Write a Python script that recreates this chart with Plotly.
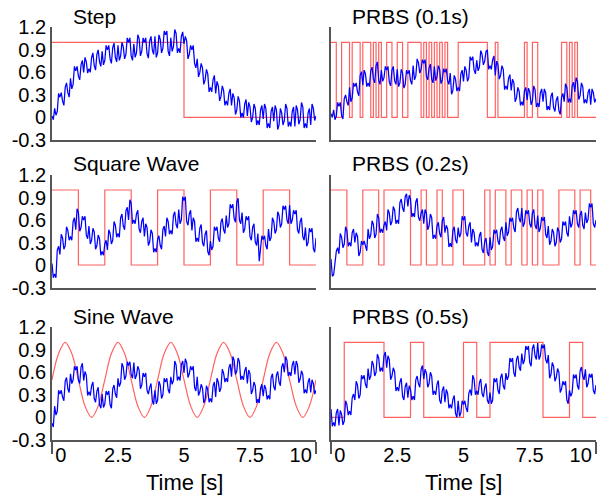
import plotly.graph_objects as go

# ---------------- data ----------------
# measured responses, read every 0.1 s (t = 0 .. 10) ...
t_resp = [round(i * 0.1, 1) for i in range(101)]
# ... and the in-between spikes read at t = 0.05, 0.15, ... 9.95
t_mid = [round(i * 0.1 + 0.05, 2) for i in range(100)]

step_out = [0.02, 0.12, 0.08, 0.27, 0.22, 0.40, 0.33, 0.52, 0.44, 0.62,
            0.55, 0.70, 0.60, 0.74, 0.65, 0.80, 0.69, 0.84, 0.74, 0.88,
            0.76, 0.90, 0.78, 0.93, 0.80, 0.96, 0.82, 0.94, 0.84, 1.00,
            0.82, 0.98, 0.86, 1.05, 0.88, 1.00, 0.85, 1.02, 0.90, 1.08,
            0.86, 1.04, 0.92, 1.10, 0.88, 1.06, 0.94, 1.12, 0.92, 1.08,
            0.98, 1.02, 0.84, 0.90, 0.72, 0.78, 0.60, 0.66, 0.50, 0.58,
            0.40, 0.50, 0.32, 0.42, 0.28, 0.36, 0.22, 0.32, 0.16, 0.26,
            0.10, 0.22, 0.06, 0.18, 0.02, 0.14, 0.00, 0.12, -0.04, 0.10,
            -0.02, 0.12, -0.08, 0.08, -0.05, 0.10, -0.10, 0.06, -0.04, 0.12,
            -0.06, 0.08, -0.12, 0.10, -0.03, 0.14, -0.08, 0.06, -0.10, 0.12,
            0.02]
step_mid = [-0.03, 0.03, 0.32, 0.33, 0.16, 0.46, 0.27, 0.38, 0.68, 0.68,
            0.50, 0.76, 0.80, 0.59, 0.60, 0.86, 0.63, 0.90, 0.68, 0.70,
            0.96, 0.96, 0.72, 0.99, 0.74, 0.76, 1.00, 0.78, 1.06, 1.06,
            0.76, 0.80, 1.10, 0.82, 1.06, 1.06, 0.79, 1.08, 0.84, 0.80,
            1.10, 0.86, 1.15, 1.15, 0.82, 0.88, 1.17, 0.86, 0.86, 1.14,
            1.08, 0.78, 0.96, 0.96, 0.66, 0.54, 0.72, 0.44, 0.64, 0.34,
            0.34, 0.56, 0.48, 0.22, 0.42, 0.16, 0.16, 0.38, 0.32, 0.04,
            0.28, 0.00, 0.00, 0.24, 0.20, -0.06, 0.18, -0.10, -0.10, 0.16,
            0.18, -0.14, -0.14, 0.14, 0.16, -0.16, 0.12, -0.10, 0.18, -0.12,
            -0.12, 0.14, 0.16, -0.09, 0.20, -0.14, -0.14, 0.12, 0.18, -0.04]

square_out = [0.02, -0.12, 0.20, 0.14, 0.36, 0.26, 0.46, 0.38, 0.58, 0.47,
              0.70, 0.50, 0.60, 0.40, 0.52, 0.33, 0.44, 0.26, 0.35, 0.18,
              0.28, 0.20, 0.42, 0.33, 0.53, 0.42, 0.63, 0.52, 0.72, 0.60,
              0.82, 0.60, 0.68, 0.48, 0.58, 0.38, 0.50, 0.31, 0.42, 0.22,
              0.34, 0.26, 0.47, 0.38, 0.58, 0.46, 0.66, 0.54, 0.74, 0.60,
              0.86, 0.58, 0.68, 0.46, 0.58, 0.36, 0.49, 0.30, 0.41, 0.18,
              0.32, 0.25, 0.46, 0.36, 0.57, 0.47, 0.66, 0.55, 0.76, 0.62,
              0.84, 0.60, 0.70, 0.48, 0.60, 0.38, 0.50, 0.31, 0.42, 0.22,
              0.34, 0.26, 0.48, 0.37, 0.58, 0.47, 0.66, 0.55, 0.74, 0.60,
              0.80, 0.60, 0.68, 0.47, 0.58, 0.38, 0.50, 0.30, 0.44, 0.22,
              0.36]
square_mid = [-0.17, -0.17, 0.25, 0.41, 0.21, 0.51, 0.33, 0.33, 0.63, 0.75,
              0.45, 0.65, 0.65, 0.35, 0.28, 0.49, 0.21, 0.40, 0.13, 0.13,
              0.33, 0.47, 0.28, 0.58, 0.37, 0.37, 0.68, 0.47, 0.77, 0.87,
              0.55, 0.55, 0.73, 0.43, 0.63, 0.55, 0.26, 0.47, 0.17, 0.17,
              0.39, 0.21, 0.52, 0.63, 0.41, 0.41, 0.71, 0.49, 0.55, 0.91,
              0.91, 0.53, 0.73, 0.63, 0.31, 0.31, 0.54, 0.25, 0.46, 0.13,
              0.20, 0.51, 0.51, 0.31, 0.62, 0.42, 0.50, 0.81, 0.81, 0.57,
              0.89, 0.55, 0.43, 0.65, 0.65, 0.33, 0.55, 0.26, 0.05, 0.39,
              0.39, 0.21, 0.32, 0.63, 0.42, 0.71, 0.50, 0.79, 0.79, 0.55,
              0.55, 0.73, 0.73, 0.42, 0.63, 0.33, 0.25, 0.49, 0.49, 0.17]

sine_out = [-0.08, 0.15, 0.08, 0.31, 0.27, 0.48, 0.38, 0.58, 0.50, 0.63,
            0.50, 0.67, 0.49, 0.56, 0.34, 0.42, 0.25, 0.35, 0.17, 0.31,
            0.18, 0.30, 0.17, 0.38, 0.31, 0.52, 0.46, 0.67, 0.55, 0.69,
            0.57, 0.73, 0.56, 0.63, 0.43, 0.54, 0.36, 0.40, 0.22, 0.36,
            0.23, 0.43, 0.30, 0.47, 0.37, 0.54, 0.49, 0.70, 0.54, 0.70,
            0.59, 0.73, 0.58, 0.63, 0.40, 0.54, 0.34, 0.39, 0.24, 0.37,
            0.25, 0.42, 0.27, 0.47, 0.39, 0.59, 0.52, 0.66, 0.54, 0.76,
            0.62, 0.74, 0.55, 0.62, 0.45, 0.58, 0.36, 0.42, 0.24, 0.39,
            0.28, 0.38, 0.29, 0.53, 0.41, 0.56, 0.47, 0.67, 0.60, 0.76,
            0.60, 0.70, 0.57, 0.70, 0.51, 0.57, 0.37, 0.47, 0.33, 0.45,
            0.36]
sine_mid = [-0.13, 0.03, 0.36, 0.36, 0.22, 0.53, 0.33, 0.45, 0.68, 0.68,
            0.45, 0.72, 0.61, 0.29, 0.29, 0.47, 0.20, 0.40, 0.12, 0.13,
            0.35, 0.35, 0.12, 0.43, 0.26, 0.41, 0.72, 0.50, 0.74, 0.74,
            0.52, 0.51, 0.68, 0.38, 0.59, 0.59, 0.31, 0.45, 0.17, 0.18,
            0.48, 0.25, 0.52, 0.52, 0.32, 0.44, 0.75, 0.49, 0.49, 0.75,
            0.78, 0.53, 0.68, 0.68, 0.35, 0.29, 0.44, 0.19, 0.42, 0.20,
            0.20, 0.47, 0.52, 0.34, 0.64, 0.47, 0.47, 0.71, 0.81, 0.57,
            0.79, 0.50, 0.50, 0.67, 0.63, 0.31, 0.47, 0.19, 0.19, 0.44,
            0.43, 0.24, 0.24, 0.58, 0.36, 0.61, 0.42, 0.72, 0.81, 0.55,
            0.55, 0.75, 0.75, 0.46, 0.62, 0.32, 0.32, 0.52, 0.50, 0.31]

prbs01_out = [0.05, 0.10, 0.02, 0.15, 0.03, 0.25, 0.21, 0.40, 0.26, 0.41,
              0.34, 0.56, 0.43, 0.58, 0.46, 0.62, 0.51, 0.69, 0.49, 0.63,
              0.53, 0.63, 0.47, 0.63, 0.49, 0.64, 0.46, 0.59, 0.44, 0.58,
              0.49, 0.69, 0.55, 0.73, 0.64, 0.72, 0.55, 0.66, 0.51, 0.68,
              0.54, 0.64, 0.50, 0.60, 0.49, 0.59, 0.36, 0.51, 0.40, 0.58,
              0.48, 0.63, 0.53, 0.76, 0.63, 0.76, 0.67, 0.84, 0.75, 0.90,
              0.69, 0.77, 0.56, 0.70, 0.56, 0.64, 0.42, 0.52, 0.36, 0.46,
              0.26, 0.35, 0.21, 0.35, 0.23, 0.34, 0.22, 0.37, 0.19, 0.33,
              0.21, 0.33, 0.15, 0.28, 0.13, 0.23, 0.09, 0.27, 0.21, 0.40,
              0.25, 0.42, 0.34, 0.48, 0.29, 0.41, 0.24, 0.33, 0.17, 0.33,
              0.25]
prbs01_mid = [0.00, -0.03, 0.20, 0.20, -0.02, 0.30, 0.16, 0.21, 0.46, 0.46,
              0.29, 0.61, 0.63, 0.41, 0.41, 0.67, 0.46, 0.74, 0.44, 0.48,
              0.68, 0.68, 0.42, 0.68, 0.44, 0.41, 0.64, 0.39, 0.63, 0.63,
              0.44, 0.50, 0.78, 0.59, 0.77, 0.77, 0.50, 0.71, 0.46, 0.49,
              0.69, 0.45, 0.65, 0.65, 0.44, 0.31, 0.56, 0.35, 0.35, 0.63,
              0.68, 0.48, 0.81, 0.81, 0.58, 0.62, 0.89, 0.70, 0.88, 0.64,
              0.64, 0.82, 0.75, 0.51, 0.69, 0.37, 0.37, 0.57, 0.51, 0.21,
              0.40, 0.16, 0.16, 0.40, 0.39, 0.17, 0.42, 0.14, 0.14, 0.38,
              0.38, 0.10, 0.10, 0.33, 0.08, 0.28, 0.04, 0.32, 0.45, 0.20,
              0.20, 0.47, 0.53, 0.24, 0.46, 0.19, 0.19, 0.38, 0.38, 0.20]

prbs02_out = [0.08, -0.13, 0.18, 0.15, 0.37, 0.28, 0.46, 0.30, 0.43, 0.30,
              0.38, 0.17, 0.27, 0.24, 0.48, 0.40, 0.54, 0.41, 0.63, 0.48,
              0.53, 0.46, 0.69, 0.58, 0.73, 0.60, 0.83, 0.76, 0.91, 0.78,
              0.88, 0.69, 0.84, 0.64, 0.69, 0.55, 0.69, 0.52, 0.63, 0.40,
              0.52, 0.42, 0.59, 0.43, 0.48, 0.29, 0.46, 0.34, 0.50, 0.42,
              0.60, 0.43, 0.52, 0.30, 0.43, 0.30, 0.39, 0.21, 0.31, 0.17,
              0.37, 0.25, 0.42, 0.32, 0.46, 0.37, 0.57, 0.44, 0.58, 0.49,
              0.71, 0.62, 0.76, 0.56, 0.68, 0.55, 0.69, 0.53, 0.66, 0.49,
              0.59, 0.41, 0.52, 0.32, 0.43, 0.30, 0.45, 0.35, 0.53, 0.43,
              0.65, 0.55, 0.68, 0.55, 0.67, 0.53, 0.70, 0.61, 0.77, 0.55,
              0.60]
prbs02_mid = [-0.15, 0.02, 0.23, 0.42, 0.23, 0.51, 0.25, 0.25, 0.48, 0.43,
              0.12, 0.32, 0.32, 0.19, 0.35, 0.59, 0.36, 0.68, 0.43, 0.43,
              0.58, 0.74, 0.53, 0.78, 0.55, 0.55, 0.88, 0.71, 0.95, 0.93,
              0.64, 0.64, 0.89, 0.59, 0.74, 0.74, 0.47, 0.68, 0.35, 0.35,
              0.57, 0.37, 0.64, 0.53, 0.24, 0.24, 0.51, 0.29, 0.37, 0.65,
              0.65, 0.38, 0.57, 0.48, 0.25, 0.25, 0.44, 0.16, 0.36, 0.12,
              0.20, 0.47, 0.47, 0.27, 0.51, 0.32, 0.39, 0.63, 0.63, 0.44,
              0.76, 0.57, 0.51, 0.73, 0.73, 0.50, 0.74, 0.48, 0.44, 0.64,
              0.64, 0.36, 0.27, 0.48, 0.25, 0.50, 0.30, 0.58, 0.58, 0.38,
              0.50, 0.73, 0.73, 0.50, 0.72, 0.48, 0.56, 0.82, 0.82, 0.50]

prbs05_out = [0.11, -0.07, 0.06, -0.11, 0.04, -0.05, 0.17, 0.08, 0.26, 0.23,
              0.43, 0.30, 0.51, 0.44, 0.65, 0.55, 0.70, 0.60, 0.79, 0.66,
              0.82, 0.66, 0.77, 0.55, 0.61, 0.40, 0.47, 0.28, 0.41, 0.26,
              0.37, 0.28, 0.50, 0.45, 0.64, 0.51, 0.59, 0.45, 0.55, 0.35,
              0.44, 0.23, 0.36, 0.20, 0.32, 0.17, 0.24, 0.05, 0.22, 0.06,
              0.17, 0.12, 0.32, 0.29, 0.51, 0.35, 0.46, 0.32, 0.40, 0.23,
              0.33, 0.23, 0.47, 0.36, 0.53, 0.42, 0.59, 0.55, 0.74, 0.59,
              0.77, 0.67, 0.85, 0.76, 0.90, 0.73, 0.92, 0.82, 0.99, 0.82,
              0.92, 0.77, 0.83, 0.57, 0.68, 0.53, 0.60, 0.38, 0.43, 0.23,
              0.36, 0.33, 0.52, 0.42, 0.62, 0.55, 0.64, 0.45, 0.53, 0.36,
              0.43]
prbs05_mid = [-0.12, -0.12, 0.11, 0.09, -0.10, 0.22, 0.03, 0.03, 0.31, 0.48,
              0.25, 0.56, 0.56, 0.39, 0.50, 0.75, 0.55, 0.84, 0.61, 0.61,
              0.87, 0.82, 0.50, 0.66, 0.35, 0.35, 0.52, 0.23, 0.46, 0.42,
              0.23, 0.23, 0.55, 0.40, 0.69, 0.64, 0.40, 0.60, 0.30, 0.30,
              0.49, 0.18, 0.41, 0.37, 0.12, 0.12, 0.29, 0.00, 0.01, 0.22,
              0.22, 0.07, 0.37, 0.56, 0.30, 0.30, 0.51, 0.27, 0.45, 0.18,
              0.18, 0.52, 0.52, 0.31, 0.58, 0.37, 0.50, 0.79, 0.79, 0.54,
              0.82, 0.62, 0.71, 0.95, 0.95, 0.68, 0.97, 0.77, 0.77, 0.97,
              0.97, 0.72, 0.52, 0.73, 0.48, 0.65, 0.33, 0.48, 0.48, 0.18,
              0.28, 0.57, 0.57, 0.37, 0.67, 0.50, 0.40, 0.58, 0.58, 0.31]

# input signals: switching times and levels (held until next time)
step_t = [0, 5, 10]
step_in = [1, 0, 0]

square_t = [0, 1, 2, 3, 4, 5, 6, 7, 8, 9, 10]
square_in = [1, 0, 1, 0, 1, 0, 1, 0, 1, 0, 0]

prbs01_t = [0, 0.2, 0.4, 0.7, 0.8, 1.1, 1.2, 1.5, 1.6, 1.7, 1.8, 1.9, 2.1, 2.3,
            2.5, 2.7, 2.9, 3.4, 3.5, 3.6, 3.7, 3.8, 3.9, 4.0, 4.1, 4.2, 4.3,
            4.4, 4.8, 5.9, 6.2, 6.3, 7.3, 7.4, 7.6, 7.8, 8.7, 8.9, 9.0, 9.1,
            9.2, 9.3, 10]
prbs01_in = [1, 0, 1, 0, 1, 0, 1, 0, 1, 0, 1, 0, 1, 0, 1, 0, 1, 0, 1, 0, 1,
             0, 1, 0, 1, 0, 1, 0, 1, 0, 1, 0, 1, 0, 1, 0, 1, 0, 1, 0, 1, 0, 0]

prbs02_t = [0, 0.6, 1.2, 1.8, 2.0, 3.0, 3.4, 3.6, 4.0, 4.2, 4.6, 5.0, 5.8, 6.0,
            6.2, 6.6, 6.8, 7.2, 7.4, 7.6, 7.8, 8.0, 8.6, 9.2, 9.4, 9.8, 10]
prbs02_in = [1, 0, 1, 0, 1, 0, 1, 0, 1, 0, 1, 0, 1, 0, 1, 0, 1, 0, 1, 0, 1,
             0, 1, 0, 1, 0, 0]

prbs05_t = [0, 0.5, 2, 3, 3.5, 5, 5.5, 6, 8, 9, 9.5, 10]
prbs05_in = [0, 1, 0, 1, 0, 1, 0, 1, 0, 1, 0, 0]

sine_t = [round(i * 0.25, 2) for i in range(41)]
sine_in = [0.5, 0.85, 1.0, 0.85, 0.5, 0.15, 0.0, 0.15] * 5 + [0.5]

titles = ["Step", "PRBS (0.1s)", "Square Wave", "PRBS (0.2s)",
          "Sine Wave", "PRBS (0.5s)"]
y_tickvals = [-0.3, 0, 0.3, 0.6, 0.9, 1.2]
y_ticktext = ["-0.3", "0", "0.3", "0.6", "0.9", "1.2"]
x_tickpos = [0.33, 2.5, 5, 7.5, 9.42]
x_ticktext = ["0", "2.5", "5", "7.5", "10"]
x_title = "Time [s]"

# ---------------- figure ----------------
W, H = 598, 502
FONT = "Liberation Sans, Arial, sans-serif"
AX = "#555555"
RED = "rgba(255,0,0,0.62)"
BLUE = "rgb(0,0,255)"

col_px = [(52, 316), (331, 596)]
row_px = [(27.3, 140), (175, 287.5), (327.3, 439.8)]

panels = [
    (step_t, step_in, "hv", step_out, step_mid),
    (prbs01_t, prbs01_in, "hv", prbs01_out, prbs01_mid),
    (square_t, square_in, "hv", square_out, square_mid),
    (prbs02_t, prbs02_in, "hv", prbs02_out, prbs02_mid),
    (sine_t, sine_in, "spline", sine_out, sine_mid),
    (prbs05_t, prbs05_in, "hv", prbs05_out, prbs05_mid),
]


def merge(ta, va, tb, vb):
    pts = sorted(zip(ta + tb, va + vb))
    return [p[0] for p in pts], [p[1] for p in pts]


fig = go.Figure()
layout = dict(width=W, height=H, margin=dict(l=0, r=0, t=0, b=0),
              paper_bgcolor="white", plot_bgcolor="white", showlegend=False,
              font=dict(family=FONT, color="black", size=20))
annotations = []

for k, (ti, vi, shape, vo, vm) in enumerate(panels):
    r, c = divmod(k, 2)
    n = "" if k == 0 else str(k + 1)
    xa, ya = "x" + n, "y" + n
    fig.add_trace(go.Scatter(x=ti, y=vi, mode="lines", xaxis=xa, yaxis=ya,
                             line=dict(color=RED, width=1.2, shape=shape,
                                       smoothing=1.0 if shape == "spline" else None),
                             hoverinfo="skip"))
    tx_, vy_ = merge(t_resp, vo, t_mid, vm)
    fig.add_trace(go.Scatter(x=tx_, y=vy_, mode="lines", xaxis=xa, yaxis=ya,
                             line=dict(color=BLUE, width=1.25),
                             hoverinfo="skip"))
    x0, x1 = col_px[c]
    y0, y1 = row_px[r]
    bottom = r == 2
    xax = dict(domain=[x0 / W, x1 / W], range=[0, 10], anchor=ya,
               showline=True, linecolor=AX, linewidth=1.5, showgrid=False,
               zeroline=False, ticks="", fixedrange=True, automargin=False,
               showticklabels=bottom)
    if bottom:
        xax.update(tickmode="array", tickvals=x_tickpos, ticktext=x_ticktext,
                   tickfont=dict(size=20, family=FONT), ticklabelstandoff=-4,
                   minor=dict(tickmode="array", tickvals=[0, 10], ticks="outside",
                              ticklen=12, tickwidth=1.5, tickcolor=AX))
    yax = dict(domain=[1 - y1 / H, 1 - y0 / H], range=[-0.3, 1.2], anchor=xa,
               showline=True, linecolor=AX, linewidth=1.8, showgrid=False,
               zeroline=False, ticks="", fixedrange=True, automargin=False,
               tickmode="array", tickvals=y_tickvals, ticktext=y_ticktext,
               showticklabels=(c == 0), tickfont=dict(size=20, family=FONT))
    layout["xaxis" + n] = xax
    layout["yaxis" + n] = yax
    tx = 71 if c == 0 else 350
    ty = [17, 164, 316][r]
    annotations.append(dict(text=titles[k], xref="paper", yref="paper",
                            x=tx / W, y=1 - ty / H, xanchor="left",
                            yanchor="middle", showarrow=False,
                            font=dict(size=21, family=FONT, color="black")))
    if bottom:
        annotations.append(dict(text=x_title, xref="paper", yref="paper",
                                x=(x0 + x1) / 2 / W, y=1 - 482 / H,
                                xanchor="center", yanchor="middle",
                                showarrow=False,
                                font=dict(size=22, family=FONT, color="black")))

layout["annotations"] = annotations
fig.update_layout(**layout)
fig.write_html("out.html")
